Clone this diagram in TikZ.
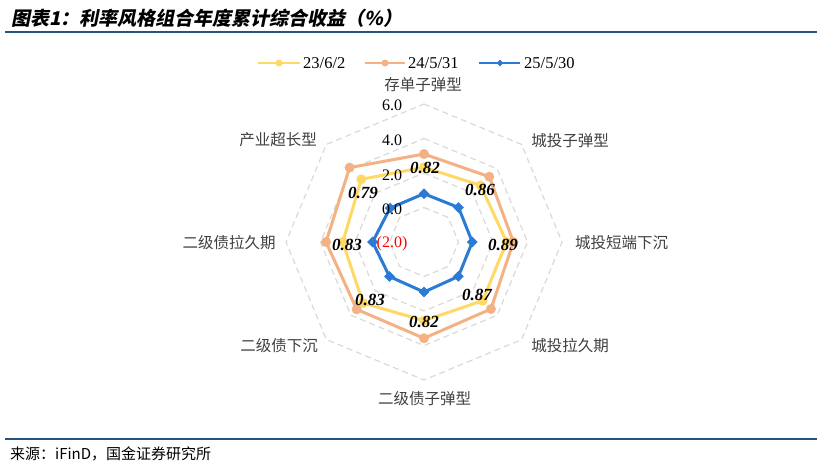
\documentclass[tikz,border=0pt]{standalone}
\usepackage{fontspec}
\setmainfont{Liberation Serif}
\newfontfamily\cjk{Noto Sans CJK SC}
\newfontfamily\cjktitle[FakeSlant=0.2,BoldFeatures={FakeSlant=0.2}]{Noto Sans CJK SC}
\usetikzlibrary{calc,shapes.geometric}
\definecolor{titleblue}{RGB}{38,84,124}
\definecolor{cyellow}{RGB}{255,217,102}
\definecolor{corange}{RGB}{244,177,131}
\definecolor{cblue}{RGB}{43,122,212}
\definecolor{labgray}{RGB}{64,64,64}
\definecolor{ringgray}{RGB}{217,217,217}
\begin{document}
\begin{tikzpicture}[x=1pt,y=-1pt,
  rule/.style={titleblue,line width=1.8pt},
  gridring/.style={ringgray,line width=1.2pt,dash pattern=on 6pt off 4pt},
  yline/.style={cyellow,line width=3pt,line join=round},
  oline/.style={corange,line width=3pt,line join=round},
  bline/.style={cblue,line width=3pt,line join=round},
  ymark/.style={circle,fill=cyellow,inner sep=0pt,minimum size=10pt},
  omark/.style={circle,fill=corange,inner sep=0pt,minimum size=10pt},
  bmark/.style={diamond,fill=cblue,inner sep=0pt,minimum width=11pt,minimum height=11pt},
  catlab/.style={text=labgray,font=\cjk\fontsize{15.5}{16}\selectfont,inner sep=0pt},
  axlab/.style={font=\fontsize{16}{16}\selectfont,inner sep=0pt},
  datalab/.style={font=\fontsize{17}{17}\selectfont\bfseries\itshape,inner sep=0pt},
  legtext/.style={font=\fontsize{16.5}{16.5}\selectfont,inner sep=0pt,anchor=west},
]
\useasboundingbox (0,0) rectangle (831,467);
% title and rules
\node[anchor=west,inner sep=0pt] (title) at (11,18) {\cjktitle\bfseries\fontsize{19}{19}\selectfont 图表1：利率风格组合年度累计综合收益（\%）};
\draw[rule] (5,32) -- (817,32);
\draw[rule] (5,439) -- (817,439);
\node[anchor=west,inner sep=0pt] (source) at (10,454) {\cjk\fontsize{15}{15}\selectfont 来源：iFinD，国金证券研究所};

% legend
\coordinate (ly1) at (258,63); \coordinate (ly2) at (300,63);
\draw[cyellow,line width=2.5pt] (ly1) -- (ly2);
\node[ymark,minimum size=7pt] (lym) at (279,63) {};
\node[legtext] (lyt) at (303,63) {23/6/2};
\coordinate (lo1) at (365,63); \coordinate (lo2) at (405,63);
\draw[corange,line width=2.5pt] (lo1) -- (lo2);
\node[omark,minimum size=7pt] (lom) at (385,63) {};
\node[legtext] (lot) at (408,63) {24/5/31};
\coordinate (lb1) at (479,63); \coordinate (lb2) at (520,63);
\draw[cblue,line width=2.5pt] (lb1) -- (lb2);
\node[bmark,minimum width=7pt,minimum height=7pt] (lbm) at (500,63) {};
\node[legtext] (lbt) at (524,63) {25/5/30};

% radar
\begin{scope}[shift={(424,242)}]
  \foreach \r in {34.5,69,103.5,138} {
    \draw[gridring] (-90:\r) \foreach \a in {-45,0,45,90,135,180,225} { -- (\a:\r) } -- cycle;
  }
  \foreach \v [count=\i from 0] in {2.33,2.64,2.79,2.81,2.56,3.00,2.71,3.14}
    \coordinate (y\i) at ({-90+45*\i}:{(\v+2)*17.25});
  \foreach \v [count=\i from 0] in {3.10,3.35,3.18,3.49,3.58,3.52,3.68,4.10}
    \coordinate (o\i) at ({-90+45*\i}:{(\v+2)*17.25});
  \foreach \v [count=\i from 0] in {0.80,0.83,0.80,0.82,0.90,0.83,0.98,0.78}
    \coordinate (b\i) at ({-90+45*\i}:{(\v+2)*17.25});
\end{scope}

\draw[yline] (y0) -- (y1) -- (y2) -- (y3) -- (y4) -- (y5) -- (y6) -- (y7) -- cycle;
\foreach \i in {0,...,7} \node[ymark] (ym\i) at (y\i) {};
\draw[oline] (o0) -- (o1) -- (o2) -- (o3) -- (o4) -- (o5) -- (o6) -- (o7) -- cycle;
\foreach \i in {0,...,7} \node[omark] (om\i) at (o\i) {};
\draw[bline] (b0) -- (b1) -- (b2) -- (b3) -- (b4) -- (b5) -- (b6) -- (b7) -- cycle;
\foreach \i in {0,...,7} \node[bmark] (bm\i) at (b\i) {};

% axis value labels
\node[axlab] (a6) at (392,105) {6.0};
\node[axlab] (a4) at (392,140) {4.0};
\node[axlab] (a2) at (392,175) {2.0};
\node[axlab] (a0) at (392,209) {0.0};
\node[axlab,text=red] (am2) at (392,244) {(2.0)};

% data labels
\node[datalab] (d0) at (425,168) {0.82};
\node[datalab] (d1) at (480,190) {0.86};
\node[datalab] (d2) at (503,245) {0.89};
\node[datalab] (d3) at (477,295) {0.87};
\node[datalab] (d4) at (424,322) {0.82};
\node[datalab] (d5) at (370,300) {0.83};
\node[datalab] (d6) at (347,245) {0.83};
\node[datalab] (d7) at (363,193) {0.79};

% category labels
\node[catlab] (c0) at (423,85) {存单子弹型};
\node[catlab] (c1) at (570,141) {城投子弹型};
\node[catlab] (c2) at (621.5,243) {城投短端下沉};
\node[catlab] (c3) at (570,346) {城投拉久期};
\node[catlab] (c4) at (424.5,399) {二级债子弹型};
\node[catlab] (c5) at (279,346) {二级债下沉};
\node[catlab] (c6) at (229,243) {二级债拉久期};
\node[catlab] (c7) at (278,140) {产业超长型};
\end{tikzpicture}
\end{document}
